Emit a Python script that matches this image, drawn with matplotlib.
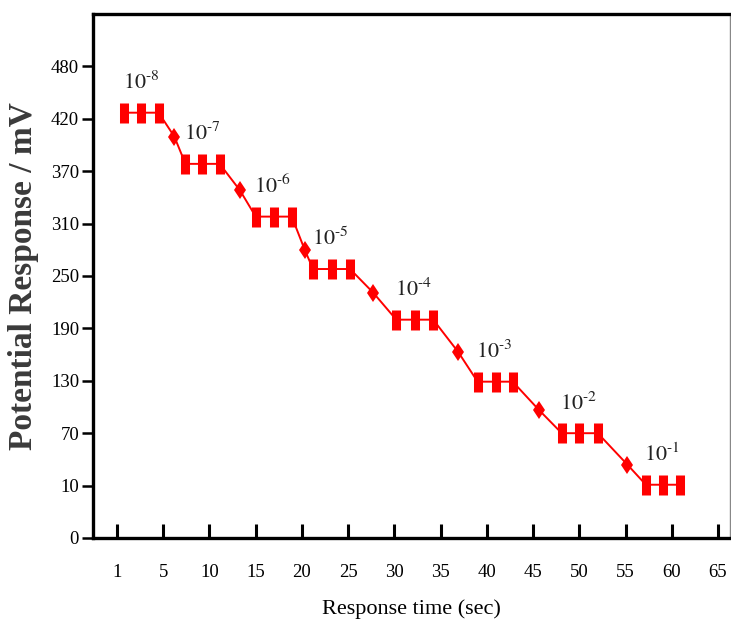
import matplotlib
matplotlib.use('Agg')
import matplotlib.pyplot as plt
import numpy as np

# axis tick labels (the original axes are evenly spaced in tick index, not value)
x_ticks = [1, 5, 10, 15, 20, 25, 30, 35, 40, 45, 50, 55, 60, 65]
y_ticks = [0, 10, 70, 130, 190, 250, 310, 370, 420, 480]

# plateau readings (three per concentration) and the transition points
plateau_x = [[1.6, 3.1, 4.6], [7.4, 9.2, 11.1], [15.0, 17.0, 18.9],
             [21.2, 23.3, 25.2], [30.2, 32.2, 34.2], [39.0, 41.0, 42.8],
             [48.1, 50.0, 52.0], [57.2, 59.1, 60.9]]
plateau_y = [427, 377, 318, 258, 200, 129, 70, 11]
step_x = [6.2, 13.3, 20.3, 27.7, 36.9, 45.6, 55.2]
step_y = [403, 348, 280, 231, 163, 97, 34]
conc_labels = [r'$10^{\text{-8}}$', r'$10^{\text{-7}}$', r'$10^{\text{-6}}$',
               r'$10^{\text{-5}}$', r'$10^{\text{-4}}$', r'$10^{\text{-3}}$',
               r'$10^{\text{-2}}$', r'$10^{\text{-1}}$']

plt.rcParams['font.family'] = ['Liberation Serif', 'DejaVu Serif']
plt.rcParams['mathtext.fontset'] = 'stix'


def index_scale(vals):
    # piecewise-linear value <-> tick index mapping, extended one step each side
    v = np.array(vals, float)
    v = np.concatenate(([v[0] - (v[1] - v[0])], v, [v[-1] + (v[-1] - v[-2])]))
    i = np.arange(len(v), dtype=float) - 1

    def fwd(a):
        return np.interp(a, v, i)

    def inv(a):
        return np.interp(a, i, v)
    return fwd, inv


fig = plt.figure(figsize=(7.31, 6.36), dpi=100)
fig.set_facecolor('w')
ax = fig.add_axes([93 / 731, 98 / 636, 637 / 731, 524 / 636])

ax.set_xscale('function', functions=index_scale(x_ticks))
ax.set_yscale('function', functions=index_scale(y_ticks))

# full trace: plateau points then transition point, alternating
xs, ys = [], []
for k in range(len(plateau_y)):
    xs += plateau_x[k]
    ys += [plateau_y[k]] * 3
    if k < len(step_x):
        xs.append(step_x[k])
        ys.append(step_y[k])
ax.plot(xs, ys, '-', color='#ff0000', linewidth=1.4, zorder=2)
ax.plot(step_x, step_y, 'd', color='#ff0000', markersize=9.5,
        markeredgewidth=0, zorder=3)
for k in range(len(plateau_y)):
    ax.plot(plateau_x[k], [plateau_y[k]] * 3, '|', color='#ff0000',
            markersize=15, markeredgewidth=6.5, zorder=3)
    ax.annotate(conc_labels[k], xy=(plateau_x[k][0], plateau_y[k]),
                xytext=(-1, 17), textcoords='offset points',
                ha='left', va='baseline', fontsize=16, color='#222222')

ax.set_xlim(-1.08, 66.3)
ax.set_ylim(0, 540)
ax.set_xticks(x_ticks)
ax.set_xticklabels([str(t) for t in x_ticks])
ax.set_yticks(y_ticks)
ax.set_yticklabels([str(t) for t in y_ticks])
ax.minorticks_off()

ax.tick_params(axis='x', direction='in', length=10, width=2.2, pad=19,
               labelsize=13.5, top=False)
ax.tick_params(axis='y', direction='out', length=8, width=1.8, pad=2,
               labelsize=13.5, right=False)

for s in ['left', 'bottom', 'top']:
    ax.spines[s].set_linewidth(2.4)
    ax.spines[s].set_color('black')
ax.spines['right'].set_linewidth(1.0)
ax.spines['right'].set_color('#888888')

ax.set_xlabel('Response time (sec)', fontsize=16, labelpad=13)
ax.set_ylabel('Potential Response / mV', fontsize=24, fontweight='bold',
              color='#3a3a3a')
ax.yaxis.set_label_coords(-0.085, 0.5)

fig.savefig('out.png', dpi=100)
